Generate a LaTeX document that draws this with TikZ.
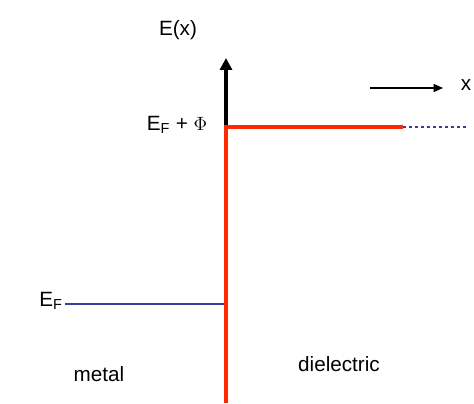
\documentclass[tikz,border=0pt]{standalone}
\usepackage{fontspec}
\setmainfont{Liberation Sans}
\usetikzlibrary{arrows.meta}
\definecolor{redl}{RGB}{255,40,0}
\definecolor{bluel}{RGB}{60,60,160}
\begin{document}
\begin{tikzpicture}[x=0.75pt,y=-0.75pt,
  lbl/.style={font=\fontsize{15.5}{18}\selectfont, inner sep=0pt},
  redline/.style={draw=redl, line width=3pt},
  blueline/.style={draw=bluel, line width=2.2pt}]
\useasboundingbox (0,0) rectangle (474,403);
\coordinate (top) at (226,58);
\coordinate (corner) at (226,127);
\coordinate (bottom) at (226,403);
\coordinate (rend) at (403,127);
\coordinate (dend) at (466,127);
\coordinate (bl) at (65,304);
\coordinate (br) at (226,304);
\coordinate (xa) at (370,88);
\coordinate (xb) at (443,88);
\draw[line width=3pt, -{Triangle[length=9pt,width=9pt]}] (corner) -- (top);
\draw[blueline] (bl) -- (br);
\draw[redline] (bottom) -- (corner) -- (rend);
\draw[bluel, line width=2.2pt, dash pattern=on 2pt off 2.5pt] (rend) -- (dend);
\draw[line width=1pt, -{Triangle[length=7pt,width=6pt]}] (xa) -- (xb);
\node[lbl] (X) at (466,85) {x};
\node[lbl] (E) at (178,30) {E(x)};
\node[lbl] (EFP) at (177,125) {E$_{\mathrm{F}}$ + $\Phi$};
\node[lbl] (EF) at (51,301) {E$_{\mathrm{F}}$};
\node[lbl] (metal) at (99,374) {metal};
\node[lbl] (diel) at (339,364) {dielectric};
\end{tikzpicture}
\end{document}
